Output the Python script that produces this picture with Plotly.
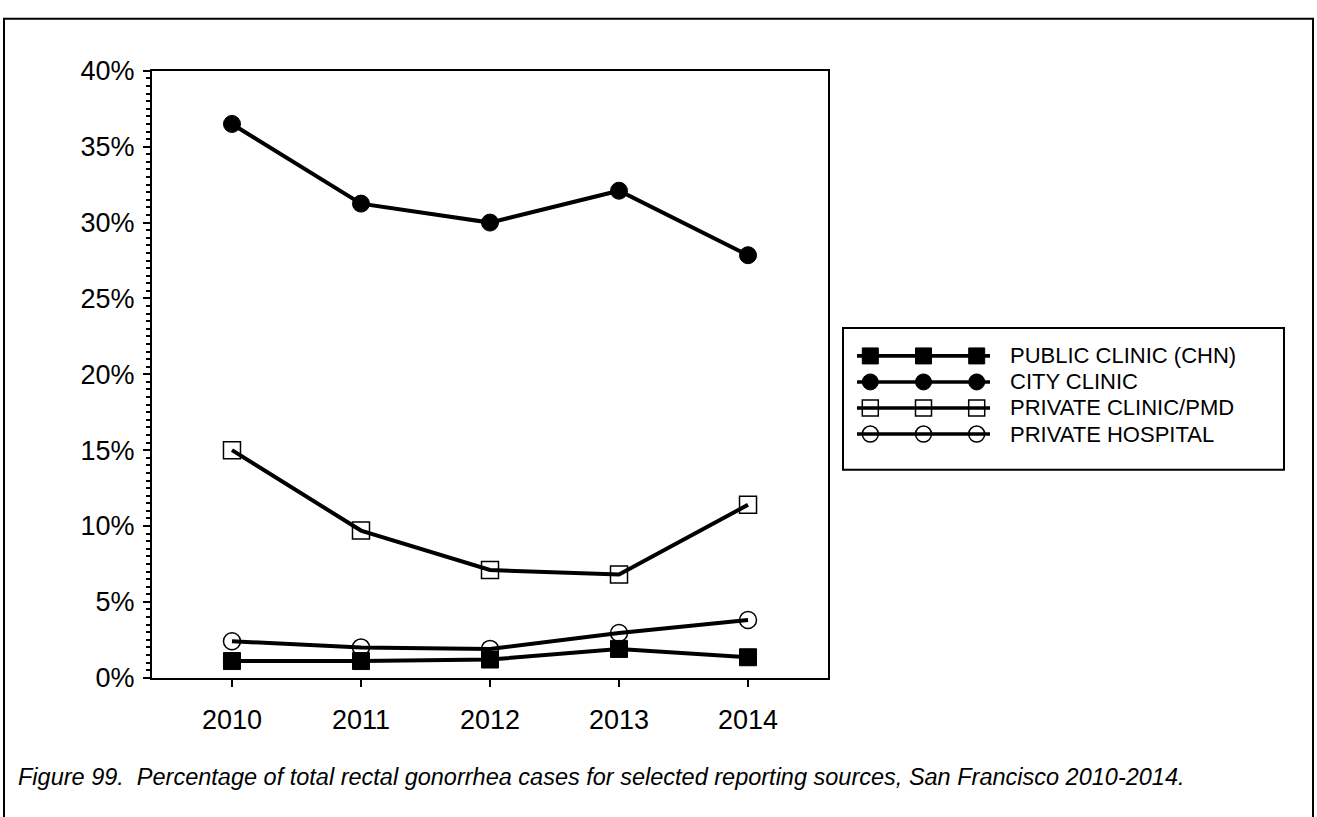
import plotly.graph_objects as go

# values (percent of total rectal GC cases)
years = [2010, 2011, 2012, 2013, 2014]
public_clinic = [1.1, 1.1, 1.2, 1.9, 1.35]
city_clinic = [36.5, 31.25, 30.0, 32.1, 27.85]
private_clinic = [15.0, 9.7, 7.1, 6.8, 11.4]
private_hospital = [2.4, 2.0, 1.9, 2.95, 3.8]

series_names = ['PUBLIC CLINIC (CHN)', 'CITY CLINIC', 'PRIVATE CLINIC/PMD', 'PRIVATE HOSPITAL']
series_values = [public_clinic, city_clinic, private_clinic, private_hospital]
series_symbols = ['square', 'circle', 'square-open', 'circle-open']

y_ticks = [0, 5, 10, 15, 20, 25, 30, 35, 40]
y_labels = [f'{v}%' for v in y_ticks]

caption = ('Figure 99.  Percentage of total rectal gonorrhea cases for selected '
           'reporting sources, San Francisco 2010-2014.')

W, H = 1317, 817
FONT = 'Liberation Sans, Arial, sans-serif'


def px(x):
    return x / W


def py(y):
    return 1 - y / H


def marker_style(sym, size):
    open_marker = sym.endswith('open')
    return dict(symbol=sym, size=size, color='black', opacity=1,
                line=dict(color='black', width=1.5 if open_marker else 1))


fig = go.Figure()

for name, vals, sym in zip(series_names, series_values, series_symbols):
    fig.add_trace(go.Scatter(
        x=years, y=vals, name=name,
        mode='lines+markers',
        line=dict(color='black', width=4),
        marker=marker_style(sym, 17),
        showlegend=False,
    ))

# legend drawn on its own small axes: a line with three markers per row
for i, (name, sym) in enumerate(zip(series_names, series_symbols)):
    fig.add_trace(go.Scatter(
        x=[0, 0.1, 0.5, 0.9, 1], y=[i] * 5,
        xaxis='x2', yaxis='y2',
        mode='lines+markers',
        line=dict(color='black', width=3.6),
        marker=marker_style(sym, [0, 16, 16, 16, 0]),
        showlegend=False, hoverinfo='skip',
    ))
    fig.add_annotation(x=px(1008), y=i, xref='paper', yref='y2',
                       text=name, showarrow=False, xanchor='left', yanchor='middle',
                       font=dict(family=FONT, size=22, color='black'))

fig.add_shape(type='rect', xref='paper', yref='paper',
              x0=px(843), x1=px(1284), y0=py(472), y1=py(325),
              line=dict(color='black', width=2))

# outer frame round the whole figure (bottom edge falls outside the page)
fig.add_shape(type='rect', xref='paper', yref='paper',
              x0=px(4), x1=px(1313), y0=-0.05, y1=py(4),
              line=dict(color='black', width=2))

fig.add_annotation(x=px(16), y=py(791), xref='paper', yref='paper',
                   text=caption, showarrow=False, xanchor='left', yanchor='middle',
                   font=dict(family=FONT, size=23.5, color='black', style='italic'))

fig.update_layout(
    width=W, height=H,
    margin=dict(l=0, r=0, t=0, b=0),
    paper_bgcolor='white', plot_bgcolor='white',
    font=dict(family=FONT, color='black'),
    xaxis=dict(
        domain=[px(152), px(828)],
        range=[2009.38, 2014.62],
        tickmode='array', tickvals=years, ticktext=[str(y) for y in years],
        ticks='outside', ticklen=7, tickwidth=2, tickcolor='black',
        showline=True, linewidth=2, linecolor='black', mirror=True,
        showgrid=False, zeroline=False,
        tickfont=dict(size=27), ticklabelstandoff=10,
    ),
    yaxis=dict(
        domain=[py(688), py(58)],
        range=[0, 40],
        tickmode='array', tickvals=y_ticks, ticktext=y_labels,
        ticks='outside', ticklen=7, tickwidth=2, tickcolor='black',
        minor=dict(dtick=0.5, ticks='outside', ticklen=4, tickwidth=1.5,
                   tickcolor='black', showgrid=False),
        showline=True, linewidth=2, linecolor='black', mirror=True,
        showgrid=False, zeroline=False,
        tickfont=dict(size=27), ticklabelstandoff=3,
    ),
    xaxis2=dict(domain=[px(857), px(990)], range=[0, 1], anchor='y2',
                visible=False, fixedrange=True),
    yaxis2=dict(domain=[py(472), py(325)], range=[4.37, -1.07], anchor='x2',
                visible=False, fixedrange=True),
)

fig.write_html('out.html', config={'displayModeBar': False},
               post_script="document.body.style.margin = '0';")
